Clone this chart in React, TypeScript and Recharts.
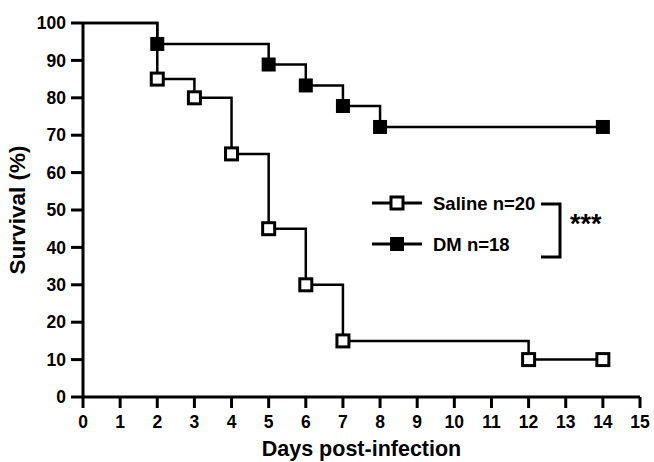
import React from "react";
import { LineChart, Line, XAxis, YAxis, Customized } from "recharts";

const dayTicks = [0, 1, 2, 3, 4, 5, 6, 7, 8, 9, 10, 11, 12, 13, 14, 15];
const survivalTicks = [0, 10, 20, 30, 40, 50, 60, 70, 80, 90, 100];

const salineDays = [0, 2, 3, 4, 5, 6, 7, 12, 14];
const salineSurvival = [100, 85, 80, 65, 45, 30, 15, 10, 10];

const dmDays = [0, 2, 5, 6, 7, 8, 14];
const dmSurvival = [100, 94.4, 88.9, 83.3, 77.8, 72.2, 72.2];

const seriesNames = ["Saline n=20", "DM n=18"];
const significance = "***";
const xTitle = "Days post-infection";
const yTitle = "Survival (%)";

const salineData = salineDays.map((d, i) => ({ day: d, survival: salineSurvival[i] }));
const dmData = dmDays.map((d, i) => ({ day: d, survival: dmSurvival[i] }));

const FONT = "'Liberation Sans', Arial, sans-serif";

const makeDot = (filled: boolean) => (props: any) => {
  const { cx, cy, index } = props;
  if (index === 0 || cx == null || cy == null) return <g key={`d${index}`} />;
  const s = filled ? 14 : 12;
  return (
    <rect
      key={`d${index}`}
      x={cx - s / 2}
      y={cy - s / 2}
      width={s}
      height={s}
      fill={filled ? "#000" : "#fff"}
      stroke="#000"
      strokeWidth={filled ? 0 : 3}
    />
  );
};

const LegendBlock = () => {
  const rows = [
    { y: 203, filled: false, name: seriesNames[0] },
    { y: 244, filled: true, name: seriesNames[1] },
  ];
  return (
    <g>
      {rows.map((r, i) => {
        const s = r.filled ? 14 : 12;
        return (
          <g key={i}>
            <line x1={372} x2={422} y1={r.y} y2={r.y} stroke="#000" strokeWidth={3} />
            <rect
              x={397 - s / 2}
              y={r.y - s / 2}
              width={s}
              height={s}
              fill={r.filled ? "#000" : "#fff"}
              stroke="#000"
              strokeWidth={r.filled ? 0 : 3}
            />
            <text x={433} y={r.y + 7} fontFamily={FONT} fontWeight="bold" fontSize={18.5} fill="#000">
              {r.name}
            </text>
          </g>
        );
      })}
      <polyline points="541,204 560,204 560,257 541,257" fill="none" stroke="#000" strokeWidth={3} />
      <text x={570} y={233} fontFamily={FONT} fontWeight="bold" fontSize={27} fill="#000">
        {significance}
      </text>
    </g>
  );
};

export default function App() {
  const tickStyle = { fontFamily: FONT, fontWeight: "bold" as const, fontSize: 17.5, fill: "#000" };
  return (
    <div style={{ position: "absolute", left: 0, top: 0, width: 654, height: 462, background: "#fff" }}>
      <LineChart width={654} height={462} margin={{ top: 23, right: 14, left: 0, bottom: 0 }}>
        <XAxis
          dataKey="day"
          type="number"
          domain={[0, 15]}
          ticks={dayTicks}
          interval={0}
          allowDuplicatedCategory={false}
          height={65}
          axisLine={{ stroke: "#000", strokeWidth: 3 }}
          tickLine={{ stroke: "#000", strokeWidth: 3 }}
          tickSize={11}
          tickMargin={8}
          tick={tickStyle}
          label={{
            value: xTitle,
            position: "insideBottom",
            offset: 6,
            style: { fontFamily: FONT, fontWeight: "bold", fontSize: 21.5, fill: "#000" },
          }}
        />
        <YAxis
          type="number"
          domain={[0, 100]}
          ticks={survivalTicks}
          interval={0}
          width={83}
          axisLine={{ stroke: "#000", strokeWidth: 3 }}
          tickLine={{ stroke: "#000", strokeWidth: 3 }}
          tickSize={12}
          tickMargin={5}
          tick={tickStyle}
          label={{
            value: yTitle,
            angle: -90,
            position: "insideLeft",
            offset: 17,
            style: { fontFamily: FONT, fontWeight: "bold", fontSize: 22.5, fill: "#000", textAnchor: "middle" },
          }}
        />
        <Line
          data={salineData}
          dataKey="survival"
          name={seriesNames[0]}
          type="stepAfter"
          stroke="#000"
          strokeWidth={2.5}
          dot={makeDot(false)}
          activeDot={false}
          isAnimationActive={false}
        />
        <Line
          data={dmData}
          dataKey="survival"
          name={seriesNames[1]}
          type="stepAfter"
          stroke="#000"
          strokeWidth={2.5}
          dot={makeDot(true)}
          activeDot={false}
          isAnimationActive={false}
        />
        <Customized component={<LegendBlock />} />
      </LineChart>
    </div>
  );
}
